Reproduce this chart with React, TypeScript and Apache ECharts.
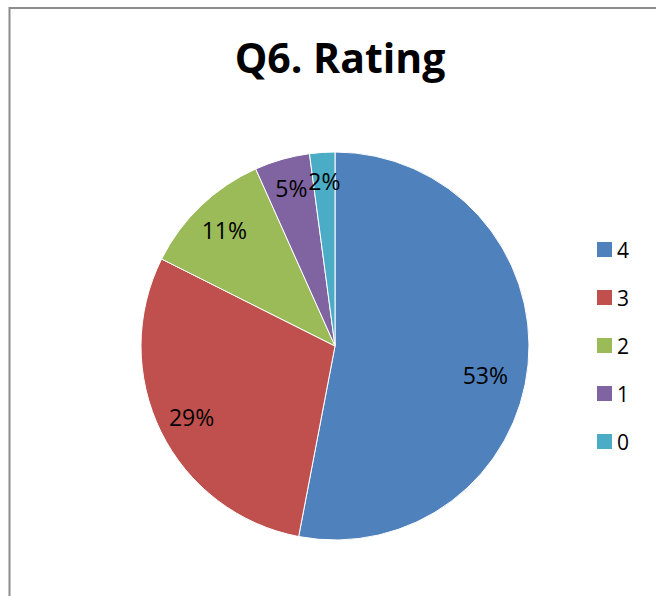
import React, { useEffect, useRef } from "react";
import * as echarts from "echarts";

const titleText = "Q6. Rating";
const categories = ["4", "3", "2", "1", "0"];
const values = [53, 29.4, 10.9, 4.6, 2.1];
const colors = ["#4F81BD", "#C0504D", "#9BBB59", "#8064A2", "#4BACC6"];
const labelOffsets: number[][] = [[-9, 14], [0, 0], [0, 0], [0, -4], [0, -5]];

export default function App() {
  const ref = useRef<HTMLDivElement>(null);
  useEffect(() => {
    if (!ref.current) return;
    const chart = echarts.init(ref.current, undefined, { renderer: "svg" });
    const data = categories.map((c, i) => ({ name: c, value: values[i] }));
    const labelData = categories.map((c, i) => ({
      name: c,
      value: values[i],
      label: { offset: labelOffsets[i] },
    }));
    const font = "'Open Sans', 'Noto Sans', sans-serif";
    chart.setOption({
      animation: false,
      backgroundColor: "#ffffff",
      color: colors,
      title: {
        text: titleText,
        left: 335,
        textAlign: "center",
        top: 31,
        textStyle: { fontFamily: font, fontWeight: "bold", fontSize: 41, color: "#000" },
      },
      legend: {
        orient: "vertical",
        left: 597,
        top: 239,
        padding: 0,
        itemWidth: 15,
        itemHeight: 15,
        itemGap: 27,
        icon: "rect",
        data: categories,
        itemStyle: { borderWidth: 0 },
        textStyle: { fontFamily: font, fontSize: 21, color: "#000" },
      },
      graphic: [
        {
          type: "rect",
          shape: { x: 9.5, y: 8, width: 800, height: 800 },
          style: { fill: "none", stroke: "#8c8c8c", lineWidth: 2 },
          silent: true,
        },
      ],
      series: [
        {
          type: "pie",
          center: [335, 346],
          radius: [0, 194],
          startAngle: 90,
          clockwise: true,
          data,
          label: { show: false },
          labelLine: { show: false },
          itemStyle: { borderColor: "#ffffff", borderWidth: 1 },
          emphasis: { disabled: true },
        },
        {
          type: "pie",
          center: [335, 346],
          radius: [120, 194],
          startAngle: 90,
          clockwise: true,
          silent: true,
          data: labelData,
          itemStyle: { color: "rgba(0,0,0,0)" },
          label: {
            show: true,
            position: "inside",
            fontFamily: font,
            fontSize: 23,
            color: "#000",
            formatter: (p: any) => Math.round(p.value) + "%",
          },
          labelLine: { show: false },
          emphasis: { disabled: true },
        },
      ],
    });
    return () => chart.dispose();
  }, []);
  return (
    <div
      ref={ref}
      style={{ position: "fixed", left: 0, top: 0, width: 656, height: 596 }}
    />
  );
}
